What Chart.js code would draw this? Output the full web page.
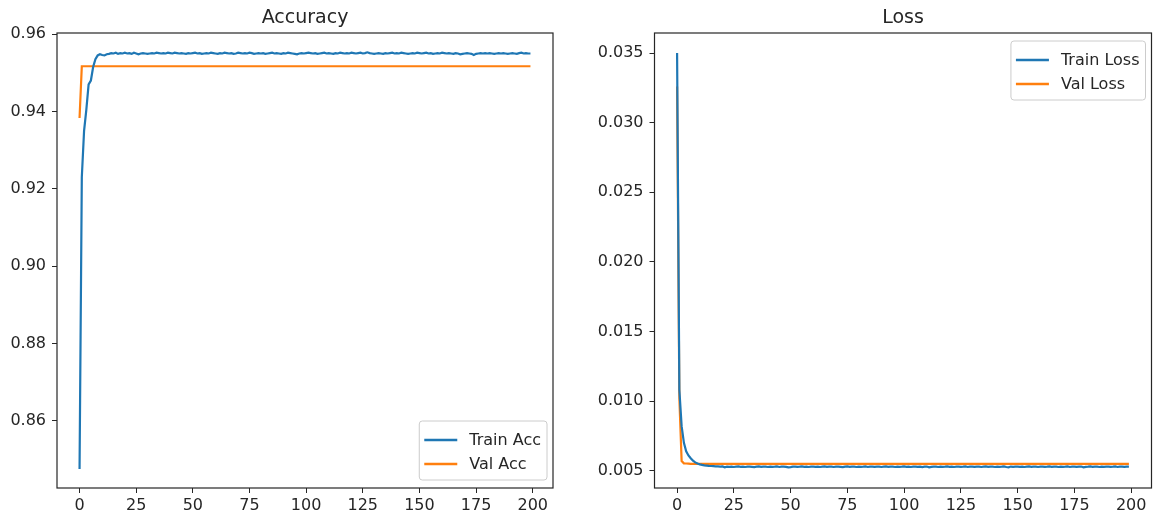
<!DOCTYPE html>
<html>
<head>
<meta charset="utf-8">
<script src="https://cdn.jsdelivr.net/npm/chart.js@4.4.1/dist/chart.umd.min.js"></script>
<style>
  html, body { margin: 0; padding: 0; background: #fff; }
  #wrap { position: relative; width: 1156px; height: 521px; }
  .pane { position: absolute; top: 0; width: 578px; height: 521px; }
</style>
</head>
<body>
<div id="wrap">
  <div class="pane" style="left:0"><canvas id="accChart" width="578" height="521"></canvas></div>
  <div class="pane" style="left:578px"><canvas id="lossChart" width="578" height="521"></canvas></div>
</div>
<script>
// epochs 0..199
const epochs = [];
for (let i = 0; i < 200; i++) epochs.push(i);

const xTicks = [0, 25, 50, 75, 100, 125, 150, 175, 200];
const accTicks = [0.86, 0.88, 0.90, 0.92, 0.94, 0.96];
const lossTicks = [0.005, 0.010, 0.015, 0.020, 0.025, 0.030, 0.035];

// values
const trainAcc = [
  0.8475, 0.9230, 0.9350, 0.9405, 0.9470, 0.9480, 0.9515, 0.9535, 0.9545, 0.9548,
  0.9546, 0.9545, 0.9548, 0.9549, 0.9551, 0.9550, 0.9552, 0.9549, 0.9551, 0.9550,
  0.9552, 0.9550, 0.9551, 0.9549, 0.9552, 0.9550, 0.9548, 0.9550, 0.9551, 0.9550,
  0.9549, 0.9550, 0.9551, 0.9550, 0.9552, 0.9551, 0.9550, 0.9551, 0.9550, 0.9552,
  0.9551, 0.9550, 0.9552, 0.9551, 0.9550, 0.9551, 0.9550, 0.9549, 0.9551, 0.9550,
  0.9551, 0.9552, 0.9550, 0.9551, 0.9549, 0.9550, 0.9551, 0.9550, 0.9552, 0.9551,
  0.9550, 0.9549, 0.9551, 0.9550, 0.9552, 0.9551, 0.9550, 0.9551, 0.9549, 0.9550,
  0.9552, 0.9551, 0.9550, 0.9551, 0.9550, 0.9552, 0.9551, 0.9549, 0.9550, 0.9551,
  0.9550, 0.9551, 0.9549, 0.9550, 0.9551, 0.9552, 0.9550, 0.9551, 0.9550, 0.9549,
  0.9551, 0.9550, 0.9552, 0.9551, 0.9550, 0.9549, 0.9548, 0.9550, 0.9551, 0.9550,
  0.9551, 0.9552, 0.9551, 0.9550, 0.9551, 0.9549, 0.9550, 0.9551, 0.9552, 0.9550,
  0.9551, 0.9550, 0.9549, 0.9551, 0.9550, 0.9552, 0.9551, 0.9550, 0.9551, 0.9550,
  0.9552, 0.9551, 0.9550, 0.9551, 0.9552, 0.9550, 0.9551, 0.9553, 0.9551, 0.9550,
  0.9549, 0.9550, 0.9551, 0.9550, 0.9549, 0.9551, 0.9550, 0.9551, 0.9552, 0.9550,
  0.9551, 0.9550, 0.9552, 0.9551, 0.9550, 0.9549, 0.9550, 0.9551, 0.9550, 0.9552,
  0.9551, 0.9550, 0.9551, 0.9552, 0.9550, 0.9551, 0.9549, 0.9550, 0.9551, 0.9550,
  0.9552, 0.9551, 0.9550, 0.9551, 0.9550, 0.9549, 0.9551, 0.9550, 0.9548, 0.9549,
  0.9550, 0.9551, 0.9550, 0.9549, 0.9546, 0.9549, 0.9550, 0.9551, 0.9550, 0.9551,
  0.9550, 0.9551, 0.9550, 0.9549, 0.9550, 0.9551, 0.9550, 0.9551, 0.9550, 0.9549,
  0.9550, 0.9551, 0.9550, 0.9549, 0.9551, 0.9552, 0.9550, 0.9551, 0.9550, 0.9550
];

const valAcc = [0.9383];
for (let i = 1; i < 200; i++) valAcc.push(0.9517);

const trainLoss = [
  0.03500, 0.01080, 0.00820, 0.00700, 0.00640, 0.00610, 0.00590, 0.00572, 0.00560, 0.00552,
  0.00546, 0.00542, 0.00539, 0.00537, 0.00535, 0.00534, 0.00533, 0.00532, 0.00531, 0.00530,
  0.00531, 0.00525, 0.00529, 0.00528, 0.00530, 0.00527, 0.00529, 0.00531, 0.00528, 0.00530,
  0.00527, 0.00529, 0.00530, 0.00528, 0.00526, 0.00529, 0.00531, 0.00528, 0.00530, 0.00529,
  0.00527, 0.00530, 0.00528, 0.00529, 0.00531, 0.00527, 0.00529, 0.00530, 0.00528, 0.00524,
  0.00526, 0.00529, 0.00530, 0.00528, 0.00529, 0.00531, 0.00528, 0.00530, 0.00527, 0.00529,
  0.00530, 0.00528, 0.00529, 0.00527, 0.00530, 0.00531, 0.00528, 0.00529, 0.00530, 0.00527,
  0.00529, 0.00530, 0.00528, 0.00526, 0.00529, 0.00531, 0.00528, 0.00530, 0.00529, 0.00527,
  0.00530, 0.00528, 0.00529, 0.00531, 0.00527, 0.00529, 0.00530, 0.00528, 0.00529, 0.00530,
  0.00527, 0.00529, 0.00531, 0.00528, 0.00530, 0.00529, 0.00527, 0.00530, 0.00528, 0.00529,
  0.00531, 0.00528, 0.00530, 0.00527, 0.00529, 0.00530, 0.00528, 0.00529, 0.00526, 0.00529,
  0.00530, 0.00524, 0.00528, 0.00530, 0.00529, 0.00527, 0.00530, 0.00528, 0.00529, 0.00531,
  0.00528, 0.00530, 0.00527, 0.00529, 0.00530, 0.00528, 0.00529, 0.00531, 0.00527, 0.00529,
  0.00530, 0.00528, 0.00529, 0.00530, 0.00527, 0.00529, 0.00531, 0.00528, 0.00530, 0.00529,
  0.00527, 0.00530, 0.00528, 0.00529, 0.00531, 0.00527, 0.00525, 0.00530, 0.00528, 0.00529,
  0.00530, 0.00528, 0.00529, 0.00527, 0.00530, 0.00531, 0.00528, 0.00529, 0.00530, 0.00527,
  0.00529, 0.00530, 0.00528, 0.00529, 0.00531, 0.00528, 0.00530, 0.00529, 0.00527, 0.00530,
  0.00528, 0.00529, 0.00531, 0.00527, 0.00529, 0.00530, 0.00528, 0.00529, 0.00530, 0.00524,
  0.00528, 0.00529, 0.00531, 0.00528, 0.00530, 0.00529, 0.00527, 0.00530, 0.00528, 0.00529,
  0.00530, 0.00528, 0.00529, 0.00531, 0.00527, 0.00529, 0.00530, 0.00528, 0.00529, 0.00529
];

const valLoss = [0.03260, 0.01020, 0.00570, 0.00553, 0.00552, 0.00551];
for (let i = 6; i < 200; i++) valLoss.push(0.00549);

const BLUE = '#1f77b4';
const ORANGE = '#ff7f0e';
const INK = '#262626';
const FONT = '"DejaVu Sans", sans-serif';

// frame, title and an in-axes legend (matplotlib style)
const mplDecor = {
  id: 'mplDecor',
  afterDraw(chart, args, opts) {
    const ctx = chart.ctx;
    const a = chart.chartArea;
    ctx.save();
    ctx.strokeStyle = INK;
    ctx.lineWidth = 1.2;
    ctx.strokeRect(a.left, a.top, a.right - a.left, a.bottom - a.top);

    ctx.fillStyle = INK;
    ctx.font = '19px ' + FONT;
    ctx.textAlign = 'center';
    ctx.textBaseline = 'alphabetic';
    ctx.fillText(opts.title, (a.left + a.right) / 2, 23);

    // legend
    ctx.font = '16px ' + FONT;
    const sets = chart.data.datasets;
    let tw = 0;
    sets.forEach(d => { tw = Math.max(tw, ctx.measureText(d.label).width); });
    const w = 5 + 33 + 12 + tw + 6;
    const h = 59;
    const x = a.right - 6 - w;
    const y = opts.legendAt === 'upper' ? a.top + 8 : a.bottom - 8 - h;
    ctx.beginPath();
    ctx.roundRect(x, y, w, h, 3);
    ctx.fillStyle = 'rgba(255,255,255,0.8)';
    ctx.fill();
    ctx.strokeStyle = '#cccccc';
    ctx.lineWidth = 1;
    ctx.stroke();
    sets.forEach((d, i) => {
      const cy = y + 19 + i * 24;
      ctx.strokeStyle = d.borderColor;
      ctx.lineWidth = 2.4;
      ctx.beginPath();
      ctx.moveTo(x + 5, cy);
      ctx.lineTo(x + 38, cy);
      ctx.stroke();
      ctx.fillStyle = INK;
      ctx.textAlign = 'left';
      ctx.textBaseline = 'middle';
      ctx.fillText(d.label, x + 50, cy + 1);
    });
    ctx.restore();
  }
};

function makeChart(id, cfg) {
  const fixTicks = list => function (axis) {
    axis.ticks = list.map(v => ({ value: v }));
  };
  return new Chart(document.getElementById(id), {
    type: 'line',
    data: {
      labels: epochs,
      datasets: [
        { label: cfg.names[0], data: cfg.series[0], borderColor: BLUE, borderWidth: 2.2, pointRadius: 0, fill: false, tension: 0 },
        { label: cfg.names[1], data: cfg.series[1], borderColor: ORANGE, borderWidth: 2.2, pointRadius: 0, fill: false, tension: 0 }
      ]
    },
    options: {
      responsive: false,
      animation: false,
      events: [],
      layout: { padding: { left: 0, top: 33, right: cfg.padRight, bottom: 0 } },
      plugins: {
        legend: { display: false },
        tooltip: { enabled: false },
        mplDecor: { title: cfg.title, legendAt: cfg.legendAt }
      },
      scales: {
        x: {
          type: 'linear',
          min: -9.95,
          max: 208.95,
          afterBuildTicks: fixTicks(xTicks),
          afterFit(s) { s.height = 33; },
          grid: { drawOnChartArea: false, drawTicks: true, tickLength: 5, color: INK },
          border: { display: false },
          ticks: { color: INK, font: { family: FONT, size: 16 }, padding: 3, maxRotation: 0 }
        },
        y: {
          min: cfg.yMin,
          max: cfg.yMax,
          afterBuildTicks: fixTicks(cfg.yTicks),
          afterFit(s) { s.width = cfg.yWidth; },
          grid: { drawOnChartArea: false, drawTicks: true, tickLength: 5, color: INK },
          border: { display: false },
          ticks: { color: INK, font: { family: FONT, size: 16 }, padding: 6,
                   callback: v => v.toFixed(cfg.digits) }
        }
      }
    },
    plugins: [mplDecor]
  });
}

makeChart('accChart', {
  title: 'Accuracy',
  names: ['Train Acc', 'Val Acc'],
  series: [trainAcc, valAcc],
  yMin: 0.8426, yMax: 0.9603, yTicks: accTicks, digits: 2,
  yWidth: 57, padRight: 25, legendAt: 'lower'
});

makeChart('lossChart', {
  title: 'Loss',
  names: ['Train Loss', 'Val Loss'],
  series: [trainLoss, valLoss],
  yMin: 0.00376, yMax: 0.03644, yTicks: lossTicks, digits: 3,
  yWidth: 76.5, padRight: 4.5, legendAt: 'upper'
});
</script>
</body>
</html>
